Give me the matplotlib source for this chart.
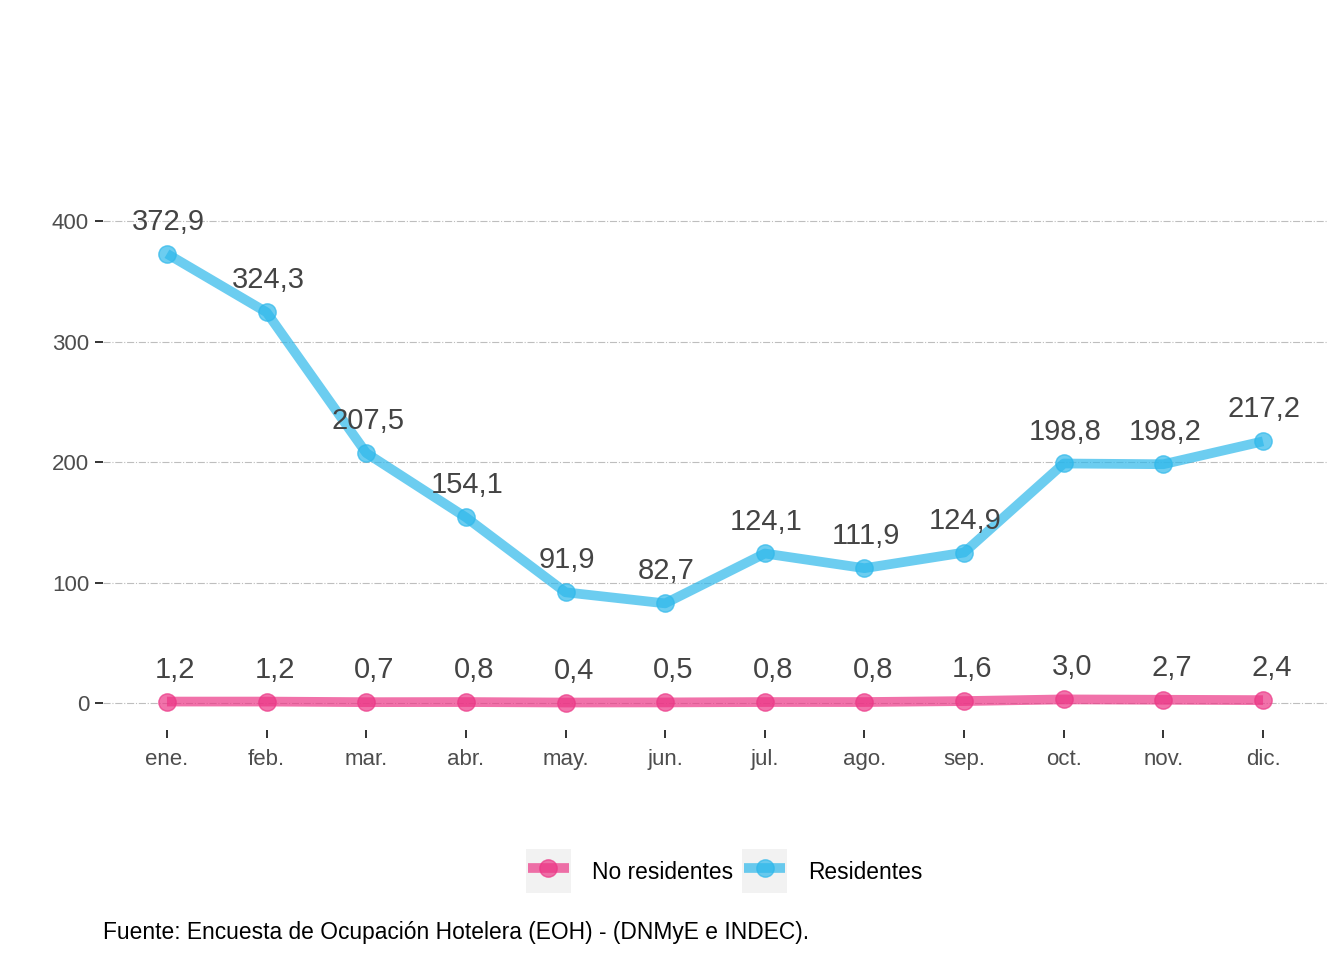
import matplotlib
matplotlib.use("Agg")
import matplotlib.pyplot as plt
from matplotlib.lines import Line2D
from matplotlib.patches import Rectangle
from matplotlib.legend_handler import HandlerLine2D

months = ["ene.", "feb.", "mar.", "abr.", "may.", "jun.", "jul.", "ago.", "sep.", "oct.", "nov.", "dic."]
residentes = [372.9, 324.3, 207.5, 154.1, 91.9, 82.7, 124.1, 111.9, 124.9, 198.8, 198.2, 217.2]
no_residentes = [1.2, 1.2, 0.7, 0.8, 0.4, 0.5, 0.8, 0.8, 1.6, 3.0, 2.7, 2.4]
y_ticks = [0, 100, 200, 300, 400]
series_names = ["No residentes", "Residentes"]
caption = "Fuente: Encuesta de Ocupación Hotelera (EOH) - (DNMyE e INDEC)."

pink = "#EC3686"
blue = "#2EB8EB"
alpha = 0.7

plt.rcParams['font.family'] = ['Liberation Sans', 'DejaVu Sans']

fig = plt.figure(figsize=(13.44, 9.6), dpi=100)
ax = fig.add_axes([103/1344, 1 - 730/960, (1328-103)/1344, (730-197)/960])

x = list(range(len(months)))
ax.plot(x, no_residentes, color=pink, alpha=alpha, lw=7, marker='o', ms=12.5,
        solid_capstyle='butt', zorder=3)
ax.plot(x, residentes, color=blue, alpha=alpha, lw=7, marker='o', ms=12.5,
        solid_capstyle='butt', zorder=3)

def fmt(v):
    return f"{v:.1f}".replace(".", ",")

for xi, v in zip(x, residentes):
    ax.annotate(fmt(v), (xi, v), xytext=(1, 23), textcoords='offset points',
                ha='center', va='center', fontsize=21, color='#444444', zorder=4)
for xi, v in zip(x, no_residentes):
    ax.annotate(fmt(v), (xi, v), xytext=(6, 23), textcoords='offset points',
                ha='center', va='center', fontsize=21, color='#444444', zorder=4)

ax.set_xlim(-0.642, 11.652)
ax.set_ylim(-22.4, 420)
ax.set_xticks(x)
ax.set_xticklabels(months)
ax.set_yticks(y_ticks)
ax.set_yticklabels([str(t) for t in y_ticks])
ax.tick_params(axis='both', labelsize=16, labelcolor='#4D4D4D', color='#333333',
               length=6, width=1.4, direction='out')
ax.tick_params(axis='x', pad=8)
ax.tick_params(axis='y', pad=4)
for s in ax.spines.values():
    s.set_visible(False)
ax.grid(axis='y', color='#BEBEBE', linestyle='-.', linewidth=0.8)
ax.set_axisbelow(True)


class BoxHandler(HandlerLine2D):
    def create_artists(self, legend, orig_handle, xdescent, ydescent, width, height, fontsize, trans):
        artists = super().create_artists(legend, orig_handle, xdescent, ydescent, width, height, fontsize, trans)
        cx = -xdescent + width / 2
        cy = -ydescent + height / 2
        side = 32
        r = Rectangle((cx - side / 2, cy - side / 2), side, side, facecolor='#F2F2F2',
                      edgecolor='none', transform=trans, zorder=-1)
        return [r] + list(artists)


handles = [Line2D([], [], color=pink, alpha=alpha, lw=7, marker='o', ms=12.5, solid_capstyle='butt'),
           Line2D([], [], color=blue, alpha=alpha, lw=7, marker='o', ms=12.5, solid_capstyle='butt')]
leg = fig.legend(handles, series_names, loc='center', bbox_to_anchor=(725/1344, 1 - 871/960),
                 ncol=2, frameon=False, fontsize=16.4, handlelength=1.8, handleheight=1.5,
                 handletextpad=1.0, columnspacing=0.5,
                 handler_map={Line2D: BoxHandler(numpoints=1)})

fig.text(103/1344, 1 - 933/960, caption, fontsize=16.4, color='black', ha='left', va='center')

fig.savefig("out.png", dpi=100)
